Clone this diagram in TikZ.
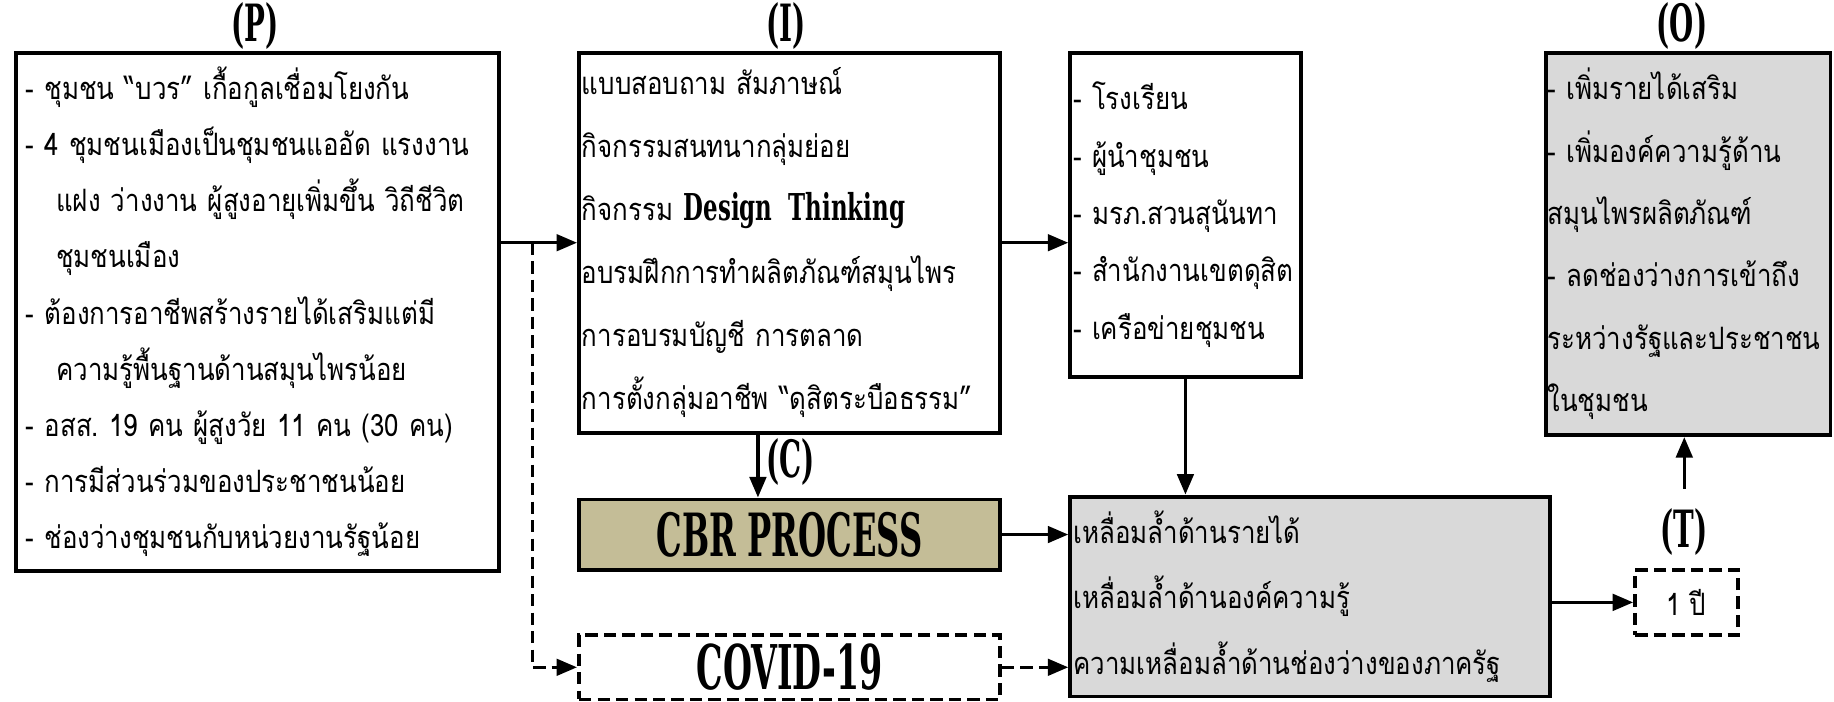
\documentclass[tikz,border=0pt]{standalone}
\usepackage{fontspec}
\usetikzlibrary{calc,arrows.meta}
\newfontfamily\thaifont[Script=Thai,FakeStretch=0.84]{Loma}
\newfontfamily\headfont[FakeStretch=0.62]{DejaVu Serif}
\newfontfamily\cbrfont[FakeStretch=0.54]{DejaVu Serif}
\definecolor{boxgrey}{HTML}{D9D9D9}
\definecolor{cbrtan}{HTML}{C4BD97}
\frenchspacing

\begin{document}
\begin{tikzpicture}[x=0.02cm, y=-0.02cm,
    box/.style={draw, line width=1.9pt, inner xsep=0.05cm, inner ysep=0pt, align=left},
    dashbox/.style={box, dash pattern=on 6pt off 3pt},
    head/.style={font=\cbrfont\bfseries\fontsize{25}{25}\selectfont, inner sep=1pt},
    arr/.style={-{Triangle[length=10pt,width=8pt]}, line width=1.7pt},
    dasharr/.style={arr, dash pattern=on 6pt off 3pt}]
  \useasboundingbox (0,0) rectangle (1568,600);

  % headings
  \node[head] (labP) at (218,22) {(P)};
  \node[head] (labI) at (672,22) {(I)};
  \node[head] (labO) at (1438,22) {(O)};

  % input box
  \node[box, inner xsep=0.16cm, text width=7.94cm, minimum height=8.86cm,
        font=\thaifont\fontsize{15}{27.3}\selectfont] (P) at (220.5,266.5)
    {\mbox{- ชุมชน “บวร” เกื้อกูลเชื่อมโยงกัน}\\
     \mbox{- 4 ชุมชนเมืองเป็นชุมชนแออัด แรงงาน}\\
     \mbox{\hspace*{0.52cm}แฝง ว่างงาน ผู้สูงอายุเพิ่มขึ้น วิถีชีวิต}\\
     \hspace*{0.52cm}ชุมชนเมือง\\
     \mbox{- ต้องการอาชีพสร้างรายได้เสริมแต่มี}\\
     \mbox{\hspace*{0.52cm}ความรู้พื้นฐานด้านสมุนไพรน้อย}\\
     \mbox{- อสส. 19 คน ผู้สูงวัย 11 คน (30 คน)}\\
     \mbox{- การมีส่วนร่วมของประชาชนน้อย}\\
     \mbox{- ช่องว่างชุมชนกับหน่วยงานรัฐน้อย}};

  % activities
  \node[box, text width=7.1cm, minimum height=6.5cm,
        font=\thaifont\fontsize{15}{30.7}\selectfont] (I) at (675,207.5)
    {\mbox{แบบสอบถาม สัมภาษณ์}\\
     กิจกรรมสนทนากลุ่มย่อย\\
     \mbox{กิจกรรม {\headfont\bfseries\fontsize{18}{18}\selectfont Design\ \,Thinking}}\\
     อบรมฝึกการทำผลิตภัณฑ์สมุนไพร\\
     \mbox{การอบรมบัญชี การตลาด}\\
     \mbox{การตั้งกลุ่มอาชีพ “ดุสิตระบือธรรม”}};

  % partners
  \node[box, text width=3.84cm, minimum height=5.54cm,
        font=\thaifont\fontsize{15}{27.9}\selectfont] (net) at (1013.5,183.5)
    {\mbox{- โรงเรียน}\\
     \mbox{- ผู้นำชุมชน}\\
     \mbox{- มรภ.สวนสุนันทา}\\
     \mbox{- สำนักงานเขตดุสิต}\\
     \mbox{- เครือข่ายชุมชน}};

  % outcome
  \node[box, fill=boxgrey, inner xsep=0.02cm, text width=4.82cm, minimum height=6.54cm,
        font=\thaifont\fontsize{15}{30.4}\selectfont] (O) at (1443.5,208.5)
    {\mbox{- เพิ่มรายได้เสริม}\\
     \mbox{- เพิ่มองค์ความรู้ด้าน}\\
     สมุนไพรผลิตภัณฑ์\\
     \mbox{- ลดช่องว่างการเข้าถึง}\\
     ระหว่างรัฐและประชาชน\\
     ในชุมชน};

  \node[box, fill=cbrtan, align=center, minimum width=7.2cm, minimum height=1.2cm,
        font=\cbrfont\bfseries\fontsize{29}{29}\selectfont] (cbr) at (675,457) {CBR PROCESS};
  \node[dashbox, align=center, minimum width=7.2cm, minimum height=1.1cm,
        font=\cbrfont\bfseries\fontsize{30}{30}\selectfont] (covid) at (675,570.5) {COVID-19};

  % gaps
  \node[box, fill=boxgrey, text width=8.1cm, minimum height=3.42cm,
        font=\thaifont\fontsize{15}{32}\selectfont] (gap) at (1120,510)
    {เหลื่อมล้ำด้านรายได้\\
     เหลื่อมล้ำด้านองค์ความรู้\\
     ความเหลื่อมล้ำด้านช่องว่างของภาครัฐ};

  \node[dashbox, align=center, minimum width=1.76cm, minimum height=1.12cm,
        font=\thaifont\fontsize{15}{15}\selectfont] (yr) at (1442,515) {1 ปี};

  \node[head] (labC) at (676,395) {(C)};
  \node[head] (labT) at (1440,455) {(T)};

  % connectors
  \coordinate (split) at ($(P.east |- I.west)!0.41!(I.west)$);
  \draw[arr] (P.east |- I.west) -- (I.west);
  \draw[dasharr] (split) |- (covid.west);
  \draw[arr] (I.east) -- (I.east -| net.west);
  \draw[arr] ([xshift=-0.54cm]I.south) -- ([xshift=-0.54cm]cbr.north);
  \draw[arr] (net.south) -- (net.south |- gap.north);
  \draw[arr] (cbr.east) -- (cbr.east -| gap.west);
  \draw[dasharr] (covid.east) -- (covid.east -| gap.west);
  \draw[arr] (gap.east |- yr.west) -- (yr.west);
  \draw[arr] ([yshift=0.3cm]labT.north) -- (labT.north |- O.south);
\end{tikzpicture}
\end{document}
